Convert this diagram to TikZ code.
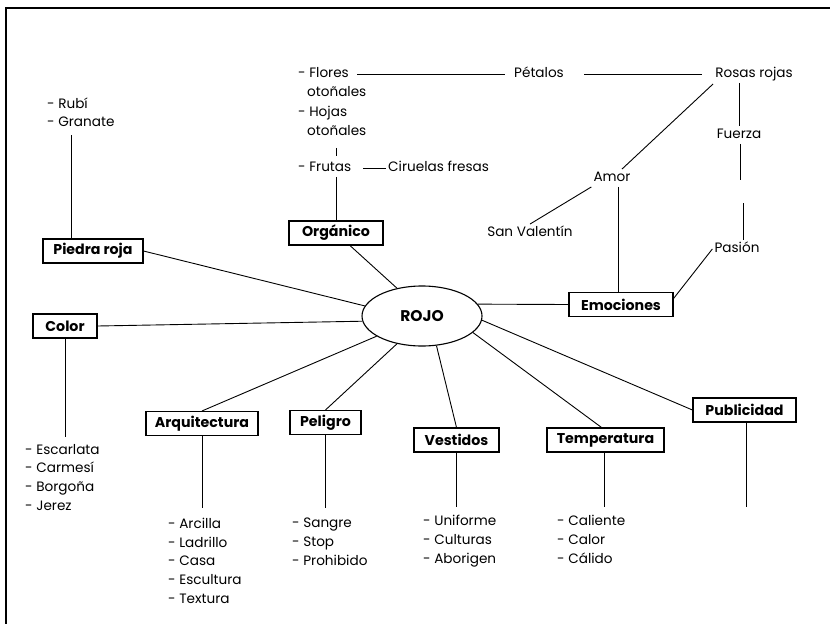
\documentclass[tikz,border=0pt]{standalone}
\usepackage{fontspec}
\setmainfont{Poppins}
\usetikzlibrary{shapes.geometric}

\begin{document}
\begin{tikzpicture}[x=1pt, y=-1pt, font=\fontsize{13.6}{16}\selectfont,
    box/.style={draw, line width=1.1pt, minimum height=24pt, inner sep=2pt, font=\fontsize{14.2}{16}\selectfont\bfseries},
    word/.style={inner sep=2pt, text height=10pt, text depth=3.5pt},
    item/.style={word, anchor=west},
    link/.style={line width=0.9pt}]
    \useasboundingbox (0,0) rectangle (830,624);
    \draw[line width=1.4pt] (830,8) -- (6,8) -- (6,624);

    % centro
    \node[draw, ellipse, line width=1.1pt, minimum width=120pt, minimum height=60pt, inner sep=0pt,
        font=\fontsize{15.5}{18}\selectfont\bfseries] (rojo) at (422,316) {ROJO};

    % ramas
    \node[box, minimum width=100pt] (piedra) at (93,251) {Piedra roja};
    \node[box, minimum width=64pt] (color) at (65,326) {Color};
    \node[box, minimum width=94pt] (organico) at (336,233) {Orgánico};
    \node[box, minimum width=104pt] (emociones) at (621,304.5) {Emociones};
    \node[box, minimum width=112pt] (arquitectura) at (202,423.5) {Arquitectura};
    \node[box, minimum width=71pt] (peligro) at (325.5,422.5) {Peligro};
    \node[box, minimum width=85pt] (vestidos) at (456.5,440) {Vestidos};
    \node[box, minimum width=117pt] (temperatura) at (605.5,440) {Temperatura};
    \node[box, minimum width=103pt] (publicidad) at (744.5,410) {Publicidad};

    \draw[link] (piedra.east) -- (rojo.170);
    \draw[link] (color.east) -- (rojo.185);
    \draw[link] ([xshift=14pt]organico.south) -- (rojo.132);
    \draw[link] (rojo.12) -- (emociones.west);
    \draw[link] (arquitectura.north) -- (rojo.204);
    \draw[link] (peligro.north) -- (rojo.228);
    \draw[link] (vestidos.north) -- (rojo.296);
    \draw[link] ([xshift=-4pt]temperatura.north) -- (rojo.342);
    \draw[link] (publicidad.west) -- (rojo.356);

    % listas
    \foreach \t [count=\i from 0] in {Rubí, Granate}
        \node[item] (piedra\i) at (45,{105+18*\i}) {- \t};
    \foreach \t [count=\i from 0] in {Escarlata, Carmesí, Borgoña, Jerez}
        \node[item] (color\i) at (23,{451+18.7*\i}) {- \t};
    \foreach \t [count=\i from 0] in {Arcilla, Ladrillo, Casa, Escultura, Textura}
        \node[item] (arquitectura\i) at (166,{525+18.8*\i}) {- \t};
    \foreach \t [count=\i from 0] in {Sangre, Stop, Prohibido}
        \node[item] (peligro\i) at (290,{524+19*\i}) {- \t};
    \foreach \t [count=\i from 0] in {Uniforme, Culturas, Aborigen}
        \node[item] (vestidos\i) at (421,{522+19*\i}) {- \t};
    \foreach \t [count=\i from 0] in {Caliente, Calor, Cálido}
        \node[item] (temperatura\i) at (555,{522+19*\i}) {- \t};
    \coordinate (publicidadfin) at (746,507);

    \draw[link, shorten >=3pt] ([xshift=-22pt]piedra.north) -- ([xshift=-22pt]piedra.north |- piedra1.south);
    \draw[link, shorten >=5pt] (color.south) -- (color.south |- color0.north);
    \draw[link, shorten >=8pt] (arquitectura.south) -- (arquitectura.south |- arquitectura0.north);
    \draw[link, shorten >=7pt] (peligro.south) -- (peligro.south |- peligro0.north);
    \draw[link, shorten >=6pt] (vestidos.south) -- (vestidos.south |- vestidos0.north);
    \draw[link, shorten >=6pt] ([xshift=-1.5pt]temperatura.south) -- ([xshift=-1.5pt]temperatura.south |- temperatura0.north);
    \draw[link] (publicidadfin |- publicidad.south) -- (publicidadfin);

    % organico
    \node[item] (flores) at (296,74) {- Flores};
    \node[item] (flores2) at (305,93) {otoñales};
    \node[item] (hojas) at (296,113) {- Hojas};
    \node[item] (hojas2) at (305,132) {otoñales};
    \node[item] (frutas) at (296,168) {- Frutas};
    \node[item] (ciruelas) at (386,168) {Ciruelas fresas};
    \node[word] (petalos) at (539,74) {Pétalos};
    \node[word] (rosas) at (754,74) {Rosas rojas};

    \draw[link, shorten <=6pt, shorten >=7pt] (flores.east) -- (petalos.west);
    \draw[link, shorten <=18pt, shorten >=11pt] (petalos.east) -- (rosas.west);
    \draw[link, shorten <=7pt, shorten >=3pt] (hojas2.south -| organico.north) -- (frutas.north -| organico.north);
    \draw[link] (frutas.south -| organico.north) -- (organico.north);
    \draw[link, shorten <=10pt] (frutas.east) -- (ciruelas.west);

    % emociones
    \node[word] (fuerza) at (739,135) {Fuerza};
    \node[word] (amor) at (612,178) {Amor};
    \node[word] (sanvalentin) at (530,233) {San Valentín};
    \node[word] (pasion) at (737,249) {Pasión};
    \coordinate (fuerzafin) at (740,180);
    \coordinate (pasionini) at (743,203);

    \draw[link] ([yshift=-1pt]rosas.south west) -- ([xshift=10pt]amor.north);
    \draw[link] (fuerza.north |- rosas.south) -- (fuerza.north);
    \draw[link] (fuerzafin |- fuerza.south) -- (fuerzafin);
    \draw[link] (pasionini) -- (pasionini |- pasion.north);
    \draw[link] (pasion.west) -- ([yshift=6pt]emociones.east);
    \draw[link] ([xshift=6pt]amor.south) -- ([xshift=6pt]amor.south |- emociones.north);
    \draw[link] (amor.south west) -- (sanvalentin.north);
\end{tikzpicture}
\end{document}
